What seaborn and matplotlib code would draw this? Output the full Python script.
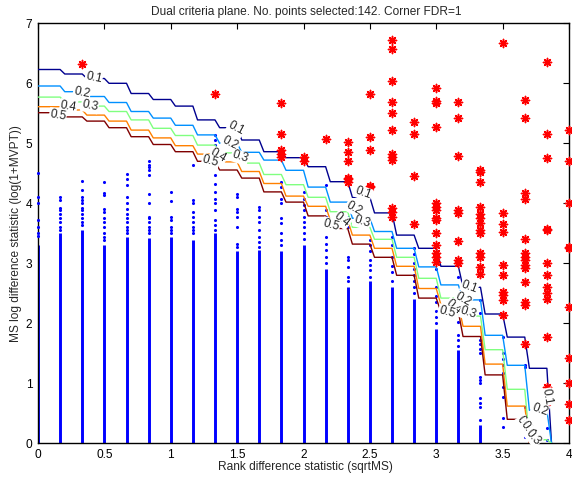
import matplotlib
matplotlib.use("Agg")
import matplotlib.pyplot as plt
import pandas as pd
import seaborn as sns

# ---------------- data ----------------
col_x = [0.0, 0.1667, 0.3333, 0.5, 0.6667, 0.8333, 1.0, 1.1667, 1.3333, 1.5,
         1.6667, 1.8333, 2.0, 2.1667, 2.3333, 2.5, 2.6667, 2.8333, 3.0, 3.1667,
         3.3333, 3.5, 3.6667, 3.8333, 4.0]

fdr_levels = ["0.1", "0.2", "0.3", "0.4", "0.5"]
bound_01 = [6.23, 6.155, 6.08, 6.0, 5.83, 5.73, 5.62, 5.39, 5.26, 5.055, 4.86, 4.76,
            4.61, 4.36, 4.10, 3.84, 3.47, 3.25, 2.95, 2.60, 2.155, 1.77, 1.25, 0.0]
bound_02 = [5.955, 5.86, 5.78, 5.68, 5.53, 5.42, 5.30, 5.14, 5.00, 4.85, 4.72, 4.55,
            4.27, 4.02, 3.75, 3.53, 3.25, 2.94, 2.64, 2.39, 1.80, 1.30, 0.55, 0.0]
bound_03 = [5.77, 5.69, 5.62, 5.53, 5.39, 5.25, 5.13, 4.97, 4.84, 4.67, 4.48, 4.31,
            4.10, 3.86, 3.60, 3.40, 3.10, 2.75, 2.42, 2.12, 1.56, 0.90, 0.06, 0.0]
bound_04 = [5.61, 5.555, 5.47, 5.37, 5.22, 5.09, 4.96, 4.82, 4.69, 4.53, 4.33, 4.12,
            3.95, 3.72, 3.47, 3.25, 2.95, 2.58, 2.31, 1.95, 1.32, 0.62, 0.0]
bound_05 = [5.51, 5.44, 5.37, 5.26, 5.11, 4.98, 4.86, 4.70, 4.555, 4.42, 4.19, 4.02,
            3.79, 3.58, 3.32, 3.10, 2.80, 2.42, 2.19, 1.78, 1.14, 0.40, 0.0]

# all (non-selected) points: dense part of each column and the sparse tops
dense_top = [3.30, 3.50, 3.55, 3.30, 3.44, 3.42, 3.44, 3.39, 3.50, 3.20, 3.22, 3.20,
             3.30, 2.90, 2.60, 2.70, 2.60, 2.40, 1.90, 1.55, 0.30, 0.00, 0.00, 0.00]
sparse_y = [
    [4.50, 4.11, 4.00, 3.72, 3.60, 3.50, 3.45],
    [4.10, 4.06, 3.93, 3.89, 3.83, 3.75, 3.69, 3.61, 3.56],
    [4.38, 4.23, 4.11, 4.06, 4.00, 3.93, 3.89, 3.83, 3.75, 3.69, 3.64],
    [4.35, 4.18, 4.14, 3.91, 3.86, 3.75, 3.69, 3.60, 3.50, 3.44, 3.39],
    [4.49, 4.41, 4.31, 4.11, 4.00, 3.91, 3.83, 3.75, 3.69, 3.61, 3.56, 3.50],
    [4.70, 4.64, 4.61, 4.55, 4.48, 4.16, 4.00, 3.78, 3.75, 3.69, 3.61, 3.56, 3.50],
    [4.19, 4.04, 3.78, 3.72, 3.61, 3.56, 3.50],
    [4.64, 4.06, 4.00, 3.86, 3.78, 3.69, 3.61, 3.56, 3.50],
    [5.14, 5.06, 4.97, 4.92, 4.47, 4.33, 4.19, 4.08, 4.00, 3.89, 3.72, 3.64, 3.56],
    [4.16, 4.11, 3.90, 3.86, 3.78, 3.61, 3.33, 3.28],
    [3.94, 3.89, 3.78, 3.69, 3.56, 3.44, 3.36, 3.28],
    [4.36, 4.28, 4.08, 4.00, 3.75, 3.67, 3.50, 3.39, 3.30],
    [4.19, 4.08, 3.97, 3.89, 3.78, 3.69, 3.61, 3.50, 3.40],
    [4.30, 3.89, 3.78, 3.44, 3.33, 3.22, 3.11, 3.00],
    [3.78, 3.60, 3.11, 3.06, 2.94, 2.78, 2.70],
    [3.39, 3.30, 3.20, 3.06, 2.97, 2.89, 2.78],
    [3.44, 3.30, 3.10, 2.95, 2.85, 2.70],
    [3.25, 3.15, 3.00, 2.90, 2.80, 2.70, 2.60, 2.50],
    [2.90, 2.60, 2.45, 2.35, 2.20, 2.10, 2.00],
    [2.78, 2.42, 2.19, 2.03, 1.80, 1.72, 1.62],
    [2.39, 2.17, 1.72, 1.65, 1.58, 1.50, 1.11, 1.05, 1.00, 0.75, 0.68, 0.61, 0.39],
    [1.78, 1.50, 1.40, 1.30, 1.17, 0.94, 0.78, 0.42, 0.28],
    [1.30, 1.27, 0.60, 0.45, 0.30, 0.10],
    [0.25, 0.05],
]

# selected points (red stars), per column
selected_y = [
    [], [], [6.33], [], [], [], [], [], [5.82], [], [],
    [5.68, 5.155, 4.89, 4.83, 4.78],
    [4.78, 4.70],
    [5.07],
    [5.03, 4.86, 4.70, 4.43, 4.40, 4.36],
    [5.82, 5.11, 4.89, 4.29, 4.27],
    [6.72, 6.58, 6.04, 5.69, 5.50, 5.22, 4.83, 4.78, 4.72, 3.92, 3.86, 3.78],
    [5.35, 5.155, 4.46, 3.65],
    [5.92, 5.71, 5.67, 5.28, 4.00, 3.94, 3.89, 3.75, 3.72, 3.50, 3.30, 3.17, 3.11, 3.03],
    [5.69, 5.42, 4.79, 3.89, 3.84, 3.38, 3.05, 3.00],
    [4.55, 4.52, 4.35, 3.94, 3.83, 3.75, 3.68, 3.56, 3.50, 3.17, 3.11, 2.94, 2.82],
    [6.68, 3.84, 3.66, 3.53, 2.97, 2.81, 2.53, 2.47, 2.39, 2.14],
    [5.73, 5.43, 4.17, 4.08, 3.40, 3.17, 3.11, 3.06, 2.97, 2.92, 2.69, 2.36, 2.30, 1.66],
    [6.36, 5.15, 4.75, 3.58, 3.56, 3.00, 2.81, 2.60, 2.50, 2.40, 1.78, 0.94, 0.69],
    [5.22, 4.70, 4.00, 3.28, 3.25, 2.28, 1.42, 1.00, 0.66, 0.39],
]

title = "Dual criteria plane. No. points selected:142. Corner FDR=1"
xlabel = "Rank difference statistic (sqrtMS)"
ylabel = "MS log difference statistic (log(1+MVPT))"

# ---------------- style ----------------
sns.set_style("white")
plt.rcParams["font.family"] = ["Liberation Sans", "DejaVu Sans"]
FS = 8.6

W, H = 572, 480
fig = plt.figure(figsize=(W / 100, H / 100), dpi=100)
ax_l, ax_r, ax_t, ax_b = 38, 569, 23.3, 443.3
ax = fig.add_axes([ax_l / W, 1 - ax_b / H, (ax_r - ax_l) / W, (ax_b - ax_t) / H])

# dense columns of points
ax.vlines(col_x[:len(dense_top)], 0, dense_top, color="#0000FF", lw=2.1, zorder=2)

# sparse points
px, py = [], []
for k, ys in enumerate(sparse_y):
    for y in ys:
        px.append(col_x[k]); py.append(y)
pts = pd.DataFrame({"x": px, "y": py})
sns.scatterplot(data=pts, x="x", y="y", color="#0000FF", s=5, linewidth=0,
                ax=ax, zorder=3, clip_on=False, legend=False)

# FDR boundary lines (stepped)
line_colors = ["#00008F", "#0090FF", "#80FF80", "#FF8000", "#800000"]
d = 0.035
for levels, c in zip([bound_01, bound_02, bound_03, bound_04, bound_05], line_colors):
    xs, ys = [col_x[0]], [levels[0]]
    for k in range(1, len(levels)):
        xs += [col_x[k], col_x[k] + d]
        ys += [levels[k - 1], levels[k]]
    ax.plot(xs, ys, color=c, lw=1.0, zorder=4, solid_joinstyle="round")

# selected points
sx, sy = [], []
for k, ys in enumerate(selected_y):
    for y in ys:
        sx.append(col_x[k]); sy.append(y)
sel = pd.DataFrame({"x": sx, "y": sy})
sns.scatterplot(data=sel, x="x", y="y", marker=(8, 2, 0), s=34, color="#FF0000",
                edgecolor="#FF0000", linewidth=1.1, ax=ax, zorder=5, clip_on=False,
                legend=False)

# contour labels (inline)
label_spots = [
    ("0.1", 0.42, 6.09, -12), ("0.2", 0.33, 5.84, -12), ("0.4", 0.23, 5.62, -10),
    ("0.3", 0.39, 5.62, -12), ("0.5", 0.15, 5.47, -10),
    ("0.1", 1.49, 5.25, -28), ("0.2", 1.45, 5.00, -28), ("0.4", 1.36, 4.79, -30),
    ("0.3", 1.52, 4.77, -18), ("0.5", 1.30, 4.70, -15),
    ("0.1", 2.45, 4.17, -20), ("0.2", 2.38, 3.92, -30), ("0.4", 2.29, 3.72, -38),
    ("0.3", 2.44, 3.69, -18), ("0.5", 2.21, 3.64, -15),
    ("0.1", 3.25, 2.61, -20), ("0.2", 3.20, 2.39, -30), ("0.4", 3.13, 2.27, -40),
    ("0.3", 3.24, 2.17, -18), ("0.5", 3.08, 2.19, -15),
    ("0.1", 3.83, 0.77, -80), ("0.2", 3.78, 0.56, -20), ("0.5", 3.66, 0.32, -55),
    ("0.4", 3.69, 0.24, -55), ("0.3", 3.73, 0.10, -50),
]
for txt, x, y, rot in label_spots:
    ax.text(x, y, txt, fontsize=FS, rotation=rot, ha="center", va="center",
            rotation_mode="anchor", zorder=6,
            bbox=dict(boxstyle="square,pad=0.05", fc="white", ec="none"))

# axes
ax.set_xlim(0, 4)
ax.set_ylim(0, 7)
ax.set_xticks([0, 0.5, 1, 1.5, 2, 2.5, 3, 3.5, 4])
ax.set_xticklabels(["0", "0.5", "1", "1.5", "2", "2.5", "3", "3.5", "4"])
ax.set_yticks(range(8))
ax.set_yticklabels([str(i) for i in range(8)])
ax.tick_params(direction="in", length=4, width=0.8, top=True, right=True,
               labelsize=FS, pad=4, colors="black")
for s in ax.spines.values():
    s.set_visible(True)
    s.set_color("black")
    s.set_linewidth(1.0)
ax.set_xlabel("")
ax.set_ylabel("")

fig.text(306 / W, 1 - 12.5 / H, title, ha="center", va="center", fontsize=FS)
fig.text(305 / W, 1 - 467 / H, xlabel, ha="center", va="center", fontsize=FS)
fig.text(16 / W, 1 - 234 / H, ylabel, ha="center", va="center", rotation=90, fontsize=FS)

fig.savefig("out.png", dpi=100)
